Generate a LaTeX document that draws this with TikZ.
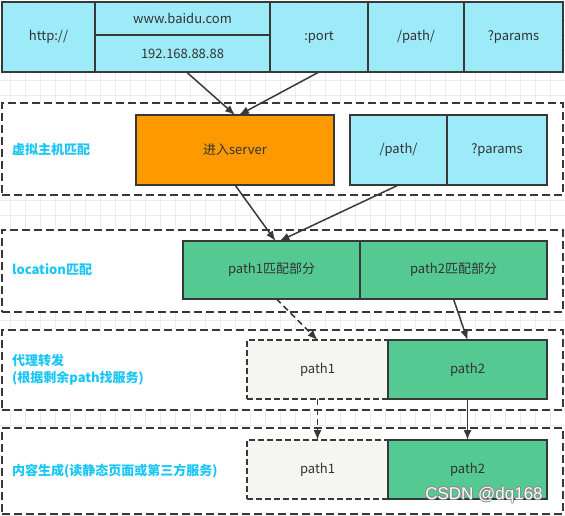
\documentclass[tikz,border=0pt]{standalone}
\usepackage{fontspec}
\setmainfont{Noto Sans CJK SC}
\newfontfamily\wmfont{Liberation Sans}
\usetikzlibrary{arrows.meta}
\definecolor{cyanfill}{RGB}{157,234,249}
\definecolor{orangefill}{RGB}{255,153,0}
\definecolor{greenfill}{RGB}{84,201,146}
\definecolor{grayfill}{RGB}{245,245,242}
\definecolor{bordercol}{RGB}{54,57,56}
\definecolor{textcol}{RGB}{51,51,51}
\definecolor{labcol}{RGB}{26,198,245}
\definecolor{gridcol}{RGB}{236,236,236}
\definecolor{wmgray}{RGB}{140,140,140}
\tikzset{
  box/.style={draw=bordercol, line width=1.5pt, inner sep=0pt, outer sep=0pt,
    text=textcol, font=\fontsize{13}{15}\selectfont, anchor=center},
  cbox/.style={box, fill=cyanfill},
  obox/.style={box, fill=orangefill},
  gbox/.style={box, fill=greenfill},
  dbox/.style={box, fill=grayfill, dash pattern=on 6pt off 3pt},
  lane/.style={draw=bordercol, fill=white, line width=1.5pt, dash pattern=on 8pt off 4pt,
    inner sep=0pt, outer sep=0pt, minimum width=561pt, anchor=north west},
  lab/.style={anchor=west, text=labcol, font=\fontsize{13}{17}\selectfont\bfseries, align=left, inner sep=0pt},
  arr/.style={draw=bordercol, line width=1.5pt, -{Latex[length=10pt,width=8pt]}},
  darr/.style={arr, dash pattern=on 6pt off 4pt},
  wm/.style={font=\wmfont\fontsize{17}{17}\selectfont, inner sep=0pt}
}
\begin{document}
\begin{tikzpicture}[x=1pt,y=-1pt]
\useasboundingbox (0,0) rectangle (565,516);
% background grid
\foreach \x in {10,25,...,565} \draw[gridcol, line width=0.6pt] (\x,0) -- (\x,516);
\foreach \y in {5,20,...,516} \draw[gridcol, line width=0.6pt] (0,\y) -- (565,\y);
% lanes
\node[lane, minimum height=92pt] (lane1) at (2,103) {};
\node[lane, minimum height=82pt] (lane2) at (2,230) {};
\node[lane, minimum height=80pt] (lane3) at (2,330) {};
\node[lane, minimum height=86pt] (lane4) at (2,428) {};
% top row
\node[cbox, minimum width=93pt, minimum height=70pt] (http) at (48.5,37) {http://};
\node[cbox, minimum width=175pt, minimum height=33pt] (www) at (182.5,18.5) {www.baidu.com};
\node[cbox, minimum width=175pt, minimum height=37pt] (ip) at (182.5,53.5) {192.168.88.88};
\node[cbox, minimum width=98pt, minimum height=70pt] (port) at (319,37) {:port};
\node[cbox, minimum width=96pt, minimum height=70pt] (path) at (416,37) {/path/};
\node[cbox, minimum width=99pt, minimum height=70pt] (params) at (513.5,37) {?params};
% lane 1
\node[lab] (lab1) at (12,150) {虚拟主机匹配};
\node[obox, minimum width=198pt, minimum height=70pt] (server) at (235,150) {进入server};
\node[cbox, minimum width=97pt, minimum height=70pt] (pathb) at (398.5,150) {/path/};
\node[cbox, minimum width=100pt, minimum height=70pt] (paramsb) at (497,150) {?params};
% lane 2
\node[lab] (lab2) at (12,270) {location匹配};
\node[gbox, minimum width=177pt, minimum height=58pt] (p1m) at (271.5,270) {path1匹配部分};
\node[gbox, minimum width=187pt, minimum height=58pt] (p2m) at (453.5,270) {path2匹配部分};
% lane 3
\node[lab] (lab3) at (12,369.5) {代理转发\\(根据剩余path找服务)};
\node[dbox, minimum width=141pt, minimum height=59pt] (p1) at (317.5,369.5) {path1};
\node[gbox, minimum width=159pt, minimum height=59pt] (p2) at (467.5,369.5) {path2};
% lane 4
\node[lab] (lab4) at (12,471) {内容生成(读静态页面或第三方服务)};
\node[dbox, minimum width=141pt, minimum height=59pt] (p1b) at (317.5,469.5) {path1};
\node[gbox, minimum width=159pt, minimum height=59pt] (p2b) at (467.5,469.5) {path2};
% arrows
\draw[arr] ([xshift=4pt]ip.south) -- (server.north);
\draw[arr] (port.south) -- ([xshift=4pt]server.north);
\draw[arr] (server.south) -- ([xshift=4pt]p1m.north);
\draw[arr] (pathb.south) -- ([xshift=8pt]p1m.north);
\draw[darr] ([xshift=5pt]p1m.south) -- (p1.north);
\draw[arr] (p2m.south) -- (p2.north);
\draw[darr] (p1.south) -- (p1b.north);
\draw[arr] (p2.south) -- (p2b.north);
% watermark
\foreach \dx/\dy [count=\i] in {0.7/0,-0.7/0,0/0.7,0/-0.7,0.5/0.5,-0.5/0.5,0.5/-0.5,-0.5/-0.5}
  \node[wm, text=wmgray] (wms\i) at (484+\dx,495+\dy) {CSDN @dq168};
\node[wm, text=white] (wmark) at (484,495) {CSDN @dq168};
\end{tikzpicture}
\end{document}
